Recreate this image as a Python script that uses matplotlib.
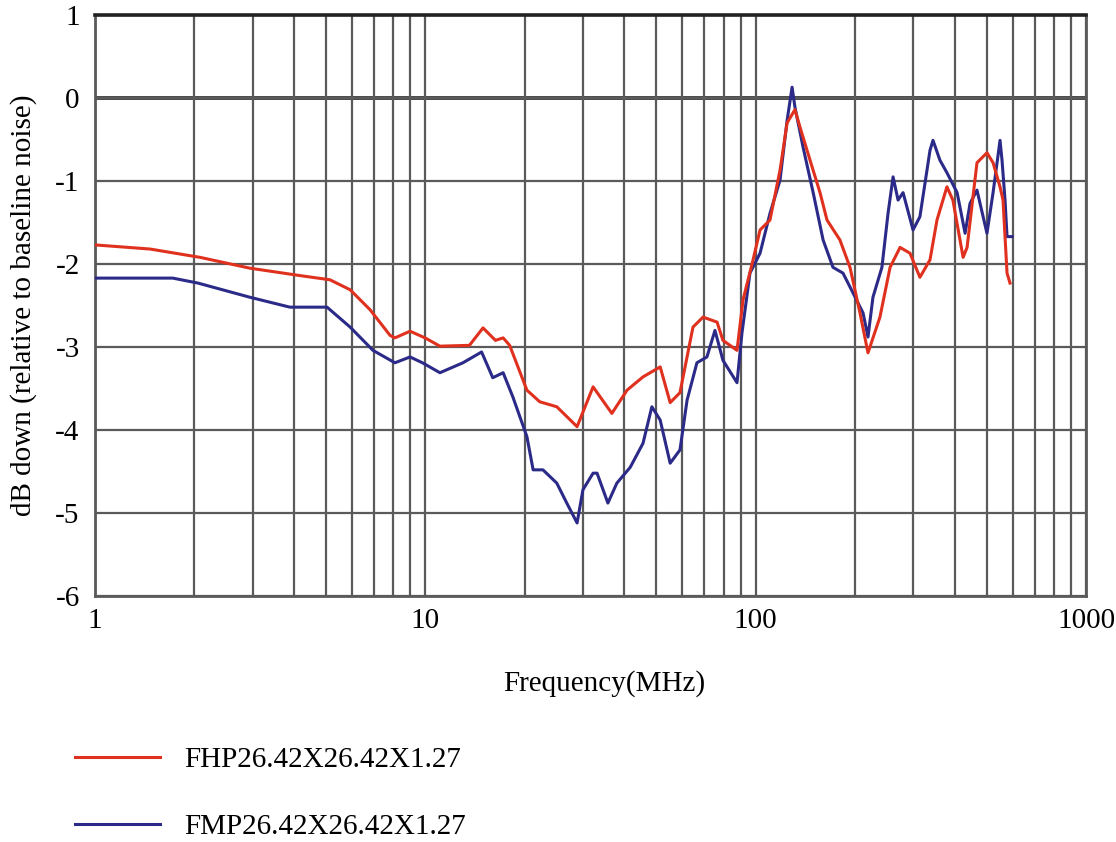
import matplotlib
matplotlib.use("Agg")
import matplotlib.pyplot as plt
from matplotlib.ticker import FixedLocator, NullFormatter, LogLocator

# ---- data ----
fhp_freq = [1.0, 1.47, 2.08, 2.94, 4.18, 5.14, 5.92, 6.80, 7.82, 8.09, 8.99, 9.98,
            11.07, 13.6, 14.95, 16.3, 17.2, 18.0, 20.3, 22.2, 25.0, 28.8, 32.2, 36.7,
            40.8, 45.6, 51.4, 55.1, 59.0, 64.6, 69.3, 76.4, 79.6, 87.8, 91.6, 98.2,
            103.1, 110.5, 118.5, 124.5, 131.5, 136.2, 146.1, 156.6, 164.4, 179.9,
            193.0, 206.9, 218.8, 237.8, 255.2, 273.6, 293.2, 314.2, 337.1, 353.9,
            379.3, 395.4, 424.6, 436.5, 467.7, 501.4, 523.2, 549.2, 560.8, 576.7, 588.8]
fhp_db = [-1.77, -1.82, -1.92, -2.05, -2.14, -2.19, -2.31, -2.55, -2.86, -2.89, -2.81, -2.89,
          -2.99, -2.98, -2.77, -2.92, -2.89, -2.98, -3.52, -3.66, -3.72, -3.96, -3.48, -3.80,
          -3.52, -3.36, -3.24, -3.67, -3.55, -2.76, -2.64, -2.70, -2.92, -3.04, -2.43, -1.95,
          -1.59, -1.47, -0.87, -0.30, -0.14, -0.35, -0.75, -1.14, -1.47, -1.71,
          -2.04, -2.59, -3.07, -2.64, -2.04, -1.80, -1.87, -2.16, -1.95, -1.47,
          -1.07, -1.23, -1.92, -1.80, -0.78, -0.66, -0.78, -1.07, -1.23, -2.11, -2.23]

fmp_freq = [1.0, 1.72, 2.05, 2.94, 3.89, 5.04, 5.92, 6.94, 8.09, 8.99, 9.8, 11.07,
            13.0, 14.8, 16.0, 17.2, 18.4, 20.3, 21.2, 22.7, 25.0, 26.8, 28.8, 30.0,
            32.2, 33.1, 35.7, 38.0, 41.7, 45.6, 48.5, 51.4, 55.1, 59.0, 62.0, 66.4,
            71.2, 75.3, 79.6, 87.8, 90.9, 96.1, 103.1, 110.5, 118.5, 124.5, 128.9,
            131.5, 139.1, 149.3, 160.0, 171.4, 183.8, 197.2, 211.4, 218.8, 226.5,
            241.1, 251.6, 260.6, 269.8, 279.4, 299.5, 314.2, 337.1, 344.2, 361.3,
            379.3, 407.2, 430.5, 445.6, 467.7, 501.4, 523.2, 549.2, 556.9, 568.7,
            576.7, 597.0]
fmp_db = [-2.17, -2.17, -2.23, -2.40, -2.52, -2.52, -2.76, -3.04, -3.19, -3.12, -3.19, -3.31,
          -3.19, -3.06, -3.37, -3.31, -3.60, -4.08, -4.48, -4.48, -4.64, -4.88, -5.12, -4.72,
          -4.52, -4.52, -4.88, -4.64, -4.45, -4.16, -3.72, -3.88, -4.40, -4.24, -3.64, -3.19,
          -3.12, -2.80, -3.16, -3.43, -2.83, -2.11, -1.87, -1.39, -0.99, -0.27, 0.13,
          -0.11, -0.59, -1.14, -1.71, -2.04, -2.11, -2.35, -2.59, -2.88, -2.40,
          -2.04, -1.39, -0.95, -1.23, -1.14, -1.59, -1.43, -0.63, -0.51, -0.75,
          -0.90, -1.14, -1.63, -1.27, -1.11, -1.63, -1.14, -0.51, -0.75, -1.23,
          -1.67, -1.67]

series_labels = ["FHP26.42X26.42X1.27", "FMP26.42X26.42X1.27"]
y_ticks = [1, 0, -1, -2, -3, -4, -5, -6]
x_ticks = [1, 10, 100, 1000]
x_tick_labels = ["1", "10", "100", "1000"]

# ---- figure ----
plt.rcParams['font.family'] = ['Liberation Serif', 'DejaVu Serif']
plt.rcParams['axes.unicode_minus'] = False
FS = 21
fig = plt.figure(figsize=(11.16, 8.42), dpi=100)
ax = fig.add_axes([95/1116, 1-596/842, (1086-95)/1116, (596-15)/842])

grid_col = '#5a5a5a'
ax.set_xscale('log')
ax.set_xlim(1, 1000)
ax.set_ylim(-6, 1)

ax.xaxis.set_major_locator(FixedLocator(x_ticks))
ax.xaxis.set_minor_locator(LogLocator(base=10, subs=range(2, 10)))
ax.xaxis.set_minor_formatter(NullFormatter())
ax.set_xticklabels(x_tick_labels)
ax.set_yticks(y_ticks)

ax.grid(True, which='both', axis='x', color=grid_col, lw=1.6)
ax.grid(True, which='major', axis='y', color=grid_col, lw=1.6)
ax.axhline(0, color='#222222', lw=2.6, zorder=1.5)
ax.tick_params(which='both', length=0, labelsize=FS)
ax.tick_params(axis='x', pad=9)
ax.tick_params(axis='y', pad=11)

for side in ['left', 'right', 'bottom']:
    ax.spines[side].set_color(grid_col)
    ax.spines[side].set_linewidth(2.0)
ax.spines['top'].set_color('#222222')
ax.spines['top'].set_linewidth(2.6)

l1, = ax.plot(fhp_freq, fhp_db, color='#e0301e', lw=2.2, label=series_labels[0], zorder=3)
l2, = ax.plot(fmp_freq, fmp_db, color='#2b2a88', lw=2.2, label=series_labels[1], zorder=2.9)

ax.set_xlabel("Frequency(MHz)", fontsize=FS)
ax.xaxis.set_label_coords(0.514, -0.128)
ax.set_ylabel("dB down (relative to baseline noise)", fontsize=FS, labelpad=13)

fig.legend(handles=[l1, l2], loc='upper left', bbox_to_anchor=(75/1116, 1-747/842),
           frameon=False, fontsize=FS, handlelength=2.9, handletextpad=0.86,
           labelspacing=1.38, borderpad=0, borderaxespad=0)

fig.savefig("out.png", dpi=100)
